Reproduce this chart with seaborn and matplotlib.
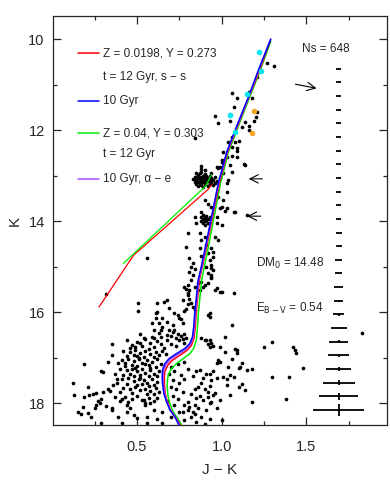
"""
Near-infrared colour-magnitude diagram (K vs J - K) with isochrones,
a photometric error column and a few annotations.
"""
import numpy as np
import pandas as pd
import seaborn as sns
import matplotlib.pyplot as plt
from matplotlib.ticker import MultipleLocator

# ---------------------------------------------------------------- stars
upper_rgb = [
    (1.27, 10.53), (1.31, 10.6), (1.21, 10.83), (1.16, 11.16), (1.06, 11.19),
    (1.09, 11.3), (1.18, 11.3), (1.07, 11.5), (1.2, 11.71), (1.21, 11.6),
    (1.19, 11.8), (0.96, 11.69), (0.98, 11.85), (1.05, 11.8), (1.14, 11.82),
    (1.12, 11.93), (1.16, 11.91), (1.16, 12.0), (1.06, 12.15), (0.84, 12.18),
    (1.08, 12.26), (1.1, 12.24), (1.04, 12.26), (1.06, 12.37), (1.09, 12.4),
    (1.01, 12.48), (1.09, 12.46),
]
mid_rgb = [
    (1.06, 12.57), (1.03, 12.59), (1.0, 12.66), (1.01, 12.73), (0.99, 12.81),
    (1.05, 12.77), (1.13, 12.75), (1.06, 12.92), (1.01, 12.95), (1.04, 13.1),
    (1.03, 13.16), (0.97, 12.81), (0.99, 13.06), (0.88, 12.79), (0.98, 12.84),
    (1.0, 12.7), (1.09, 12.59), (1.14, 12.77), (1.03, 13.36), (0.98, 13.47),
    (1.01, 13.54),
]
red_clump = [
    (0.84, 13.02), (0.85, 13.1), (0.85, 13.18), (0.86, 12.98), (0.86, 13.06),
    (0.86, 13.14), (0.86, 13.22), (0.87, 12.94), (0.87, 13.02), (0.87, 13.1),
    (0.87, 13.17), (0.88, 13.05), (0.88, 13.12), (0.88, 13.2), (0.88, 12.92),
    (0.89, 13.0), (0.89, 13.08), (0.89, 13.15), (0.89, 13.25), (0.9, 12.96),
    (0.9, 13.04), (0.9, 13.12), (0.9, 13.19), (0.91, 13.0), (0.91, 13.08),
    (0.91, 13.15), (0.92, 13.05), (0.92, 13.12), (0.92, 13.22), (0.93, 13.0),
    (0.93, 13.1), (0.93, 13.18), (0.94, 13.06), (0.94, 13.14), (0.95, 13.1),
    (0.95, 13.2), (0.96, 13.04), (0.96, 13.16), (0.97, 13.12), (0.85, 12.95),
    (0.88, 12.85), (0.9, 12.88), (0.94, 12.95), (0.83, 13.08), (0.84, 13.15),
]
lower_rgb = [
    (0.9, 13.54), (0.92, 13.63), (0.94, 13.69), (1.0, 13.69), (1.02, 13.78),
    (1.07, 13.8), (0.95, 13.82), (0.97, 13.91), (0.99, 13.71), (1.03, 13.71),
    (1.08, 13.8), (1.15, 13.87), (0.97, 14.04), (1.0, 14.09), (0.88, 13.8),
    (0.89, 13.87), (0.84, 13.91), (0.85, 14.04),
    (0.88, 13.9), (0.89, 13.95), (0.9, 13.92), (0.9, 14.0), (0.91, 13.88),
    (0.91, 13.97), (0.92, 14.03), (0.89, 14.05), (0.9, 14.08), (0.92, 13.95),
    (0.88, 14.0), (0.93, 13.9),
    (0.87, 14.26), (0.9, 14.35), (0.88, 14.42), (0.91, 14.53), (0.87, 14.59),
    (0.94, 14.6), (0.92, 14.7), (0.95, 14.79), (0.93, 14.86), (0.94, 14.97),
    (0.95, 15.08), (0.8, 14.26), (0.79, 14.57), (0.81, 14.81), (0.83, 14.92),
    (0.82, 15.0), (0.81, 15.12), (0.84, 15.06), (0.83, 15.19), (0.88, 14.77),
    (0.96, 14.35), (0.98, 14.42), (0.95, 14.68), (0.91, 15.0), (0.94, 15.03),
    (0.92, 15.14), (0.94, 15.23), (0.56, 14.81),
]
subgiants = [
    (0.82, 15.3), (0.84, 15.45), (0.8, 15.58), (0.86, 15.36), (0.87, 15.52),
    (0.89, 15.45), (0.94, 15.19), (0.94, 15.25), (0.96, 15.52), (1.0, 15.56),
    (1.07, 15.58), (0.88, 15.34), (0.9, 15.4), (0.92, 15.36), (0.97, 15.47),
    (0.99, 15.56), (0.78, 15.45), (0.79, 15.5), (0.8, 15.4), (0.81, 15.52),
    (0.8, 15.63), (0.81, 15.7), (0.82, 15.8), (0.8, 15.82), (0.83, 15.88),
    (0.84, 15.95), (0.78, 15.98), (0.79, 15.92), (0.74, 16.06), (0.75, 16.12),
    (0.76, 16.15), (0.93, 16.02), (0.92, 16.07), (0.93, 16.11), (1.06, 16.29),
    (0.62, 15.8), (0.62, 16.0), (0.66, 15.78), (0.69, 15.91), (0.72, 16.02),
    (0.61, 16.02), (0.65, 16.13), (0.68, 16.22), (0.71, 16.29), (0.65, 16.33),
    (0.59, 16.24), (0.72, 16.4), (0.77, 16.24), (0.68, 15.74), (0.77, 15.74),
    (0.32, 15.6), (0.505, 15.8), (0.505, 15.98), (0.61, 16.13), (0.63, 16.24),
    (0.63, 16.46), (0.6, 16.4), (0.64, 16.4), (0.69, 16.4), (0.71, 16.44),
    (0.74, 16.48), (0.76, 16.53), (0.78, 16.48), (0.79, 16.57), (0.52, 16.48),
]
red_side = [
    (0.88, 16.57), (0.9, 16.62), (0.91, 16.62), (0.93, 16.62), (0.94, 16.68),
    (0.93, 16.77), (1.02, 16.55), (0.99, 16.77), (1.25, 16.77), (1.3, 16.66),
    (1.42, 16.77), (1.43, 16.84), (1.44, 16.9), (1.08, 16.81), (1.09, 16.9),
    (1.06, 17.03), (1.12, 17.12), (1.1, 17.23), (1.15, 17.27), (1.18, 17.25),
    (1.48, 17.23), (1.3, 17.43), (1.4, 17.43), (1.83, 16.46), (1.01, 17.43),
    (1.07, 17.43), (1.03, 17.6), (1.1, 17.65), (1.12, 17.58), (1.14, 17.71),
    (1.18, 17.98), (1.38, 17.91), (1.05, 17.82), (0.99, 17.93), (0.95, 17.82),
    (0.92, 17.76), (0.84, 18.24), (0.85, 18.42), (0.92, 16.7), (0.95, 16.74),
    (1.02, 16.88), (1.09, 16.84), (0.99, 17.1), (0.97, 17.12), (0.98, 17.05),
    (1.04, 17.21), (1.11, 17.21), (0.87, 17.28), (0.91, 17.35), (0.89, 17.45),
    (0.93, 17.35), (0.95, 17.3), (0.85, 17.3), (0.83, 17.4), (0.88, 17.55),
    (0.94, 17.5), (0.97, 17.45), (1.03, 17.48), (1.05, 17.38), (0.86, 17.65),
    (0.9, 17.7), (0.93, 17.62), (0.96, 17.78), (0.82, 17.8), (0.84, 17.7),
    (0.87, 17.85), (0.89, 17.93), (0.94, 17.98), (0.8, 17.98), (0.84, 18.04),
    (0.86, 18.1), (0.91, 18.15), (0.97, 18.1), (0.82, 18.3), (0.88, 18.3),
    (0.93, 18.35), (0.9, 18.45), (0.8, 18.15), (0.78, 18.38), (0.85, 17.89),
    (0.92, 17.87), (0.93, 18.0), (0.78, 18.04), (0.81, 18.09), (0.83, 18.2),
    (0.77, 18.2), (1.0, 18.37), (0.65, 18.44),
]
turnoff = [
    (0.44, 16.62), (0.5, 16.65), (0.55, 16.6), (0.58, 16.68), (0.62, 16.63),
    (0.47, 16.72), (0.53, 16.74), (0.6, 16.77), (0.64, 16.7), (0.57, 16.8),
    (0.66, 16.78), (0.7, 16.7), (0.73, 16.75), (0.68, 16.62), (0.42, 16.85),
    (0.46, 16.88), (0.49, 16.83), (0.52, 16.9), (0.55, 16.86), (0.58, 16.93),
    (0.61, 16.88), (0.63, 16.95), (0.65, 16.85), (0.5, 16.97), (0.54, 16.99),
    (0.44, 16.96), (0.67, 16.92), (0.6, 16.98), (0.41, 17.05), (0.45, 17.02),
    (0.48, 17.08), (0.51, 17.04), (0.53, 17.12), (0.56, 17.06), (0.59, 17.1),
    (0.62, 17.04), (0.64, 17.15), (0.47, 17.16), (0.5, 17.18), (0.57, 17.17),
    (0.61, 17.2), (0.43, 17.19), (0.39, 17.12), (0.4, 17.25), (0.44, 17.28),
    (0.47, 17.24), (0.5, 17.3), (0.53, 17.26), (0.55, 17.33), (0.58, 17.28),
    (0.6, 17.35), (0.63, 17.3), (0.46, 17.36), (0.52, 17.38), (0.57, 17.4),
    (0.42, 17.38), (0.62, 17.4), (0.49, 17.22), (0.41, 17.48), (0.45, 17.45),
    (0.48, 17.52), (0.51, 17.46), (0.54, 17.5), (0.56, 17.56), (0.59, 17.48),
    (0.62, 17.54), (0.44, 17.58), (0.5, 17.6), (0.53, 17.58), (0.6, 17.6),
    (0.38, 17.55), (0.42, 17.66), (0.46, 17.7), (0.49, 17.64), (0.52, 17.72),
    (0.55, 17.68), (0.58, 17.74), (0.61, 17.67), (0.63, 17.76), (0.47, 17.78),
    (0.56, 17.8), (0.4, 17.75), (0.43, 17.86), (0.47, 17.9), (0.5, 17.85),
    (0.53, 17.93), (0.57, 17.88), (0.6, 17.95), (0.45, 17.98), (0.55, 18.0),
    (0.62, 17.88), (0.44, 18.04), (0.46, 18.1), (0.44, 18.2), (0.55, 18.04),
    (0.58, 18.0), (0.54, 17.93), (0.5, 18.33), (0.56, 18.3), (0.56, 18.44),
    (0.41, 18.44), (0.6, 18.15), (0.48, 18.25), (0.62, 18.35), (0.65, 18.2),
    (0.7, 17.2), (0.74, 17.15), (0.78, 17.1), (0.69, 17.35), (0.72, 17.3),
    (0.76, 17.38), (0.8, 17.25), (0.71, 17.5), (0.75, 17.55), (0.78, 17.48),
    (0.73, 17.7), (0.77, 17.75), (0.7, 17.65), (0.74, 17.9), (0.71, 17.85),
    (0.68, 17.95), (0.72, 18.05), (0.75, 18.2), (0.7, 18.3), (0.6, 16.57),
    (0.64, 16.55), (0.68, 16.51), (0.7, 16.53), (0.73, 16.57), (0.75, 16.62),
    (0.77, 16.6), (0.78, 16.68), (0.54, 16.57), (0.52, 16.68), (0.59, 16.55),
    (0.46, 16.79), (0.49, 16.77), (0.48, 16.95), (0.51, 17.0), (0.55, 17.14),
    (0.58, 17.22), (0.52, 17.44), (0.57, 17.62), (0.48, 17.41), (0.6, 17.8),
]
blue_side = [
    (0.35, 16.7), (0.35, 16.95), (0.33, 17.1), (0.19, 17.15), (0.43, 17.12),
    (0.29, 17.3), (0.3, 17.32), (0.38, 17.47), (0.12, 17.56), (0.21, 17.65),
    (0.13, 17.82), (0.19, 17.87), (0.22, 17.82), (0.24, 17.8), (0.26, 17.78),
    (0.3, 17.76), (0.33, 17.7), (0.34, 17.74), (0.29, 17.9), (0.26, 18.04),
    (0.25, 18.1), (0.37, 17.87), (0.18, 18.09), (0.21, 18.22), (0.17, 18.24),
    (0.32, 18.07), (0.35, 18.1), (0.35, 18.15), (0.29, 18.44), (0.27, 17.95),
    (0.28, 18.0), (0.36, 17.6), (0.4, 17.95), (0.39, 18.3), (0.23, 18.3),
    (0.15, 18.2), (0.37, 17.35), (0.41, 17.9),
]

# variable stars
cyan_jk = [1.22, 1.23, 1.15, 1.05, 1.08]
cyan_k = [10.29, 10.7, 11.2, 11.67, 12.04]
orange_jk = [1.19, 1.18]
orange_k = [11.57, 12.07]

# ---------------------------------------------------------------- isochrones
iso_10_jk = [0.763, 0.724, 0.694, 0.671, 0.659, 0.651, 0.649, 0.651, 0.665,
             0.69, 0.734, 0.782, 0.812, 0.828, 0.835, 0.841, 0.851, 0.861,
             0.88, 0.90, 0.94, 0.98, 1.03, 1.09, 1.155, 1.22, 1.29]
iso_10_k = [18.6, 18.3, 18.15, 17.93, 17.79, 17.57, 17.42, 17.27, 17.13,
            17.02, 16.91, 16.8, 16.69, 16.54, 16.32, 16.03, 15.66, 15.3,
            15.0, 14.64, 13.91, 13.17, 12.48, 11.9, 11.3, 10.65, 10.0]
iso_sol_jk = [0.775, 0.73, 0.70, 0.678, 0.667, 0.662, 0.662, 0.665, 0.68,
              0.705, 0.748, 0.792, 0.82, 0.836, 0.844, 0.849, 0.859, 0.868,
              0.886, 0.907, 0.946, 0.986, 1.035, 1.095, 1.158, 1.222, 1.285]
iso_sol_k = [18.6, 18.32, 18.16, 17.95, 17.8, 17.58, 17.43, 17.3, 17.18,
             17.07, 16.96, 16.85, 16.74, 16.58, 16.34, 16.04, 15.66, 15.3,
             15.0, 14.64, 13.91, 13.17, 12.48, 11.9, 11.3, 10.7, 10.05]
iso_rich_jk = [0.782, 0.74, 0.712, 0.692, 0.683, 0.678, 0.68, 0.687, 0.703,
               0.73, 0.77, 0.81, 0.835, 0.85, 0.857, 0.862, 0.872, 0.882,
               0.898, 0.918, 0.955, 0.993, 1.04, 1.1, 1.163, 1.226, 1.29]
iso_rich_k = [18.6, 18.33, 18.18, 17.98, 17.83, 17.62, 17.48, 17.36, 17.25,
              17.14, 17.03, 16.92, 16.8, 16.62, 16.36, 16.05, 15.66, 15.3,
              15.0, 14.64, 13.91, 13.17, 12.48, 11.9, 11.3, 10.7, 10.05]
iso_ae_jk = [0.77, 0.727, 0.697, 0.675, 0.663, 0.656, 0.655, 0.658, 0.672,
             0.697, 0.741, 0.788, 0.816, 0.832, 0.839, 0.845, 0.855, 0.864,
             0.883, 0.903, 0.942, 0.982, 1.032, 1.092, 1.157, 1.222, 1.288]
iso_ae_k = [18.6, 18.31, 18.15, 17.94, 17.79, 17.57, 17.42, 17.28, 17.15,
            17.04, 16.93, 16.82, 16.71, 16.56, 16.33, 16.03, 15.66, 15.3,
            15.0, 14.64, 13.91, 13.17, 12.48, 11.9, 11.3, 10.65, 10.0]

# horizontal branches
hb_sol_jk = [0.276, 0.48, 0.86, 0.92, 0.94]
hb_sol_k = [15.89, 14.75, 13.5, 13.3, 13.2]
hb_rich_jk = [0.42, 0.905, 0.94]
hb_rich_k = [14.93, 13.23, 12.98]

# ---------------------------------------------------------------- errors
err_jk = 1.69
err_k = [10.65, 10.95, 11.25, 11.55, 11.85, 12.15, 12.45, 12.75, 13.05,
         13.35, 13.65, 13.95, 14.25, 14.55, 14.85, 15.15, 15.45, 15.75,
         16.05, 16.35, 16.65, 16.95, 17.25, 17.55, 17.85, 18.15]
err_x = [0.016, 0.016, 0.016, 0.016, 0.016, 0.016, 0.016, 0.016, 0.016,
         0.017, 0.017, 0.017, 0.018, 0.018, 0.019, 0.02, 0.025, 0.029,
         0.033, 0.047, 0.057, 0.061, 0.076, 0.094, 0.116, 0.149]
err_y = [0.0, 0.0, 0.0, 0.0, 0.0, 0.0, 0.0, 0.0, 0.0, 0.0,
         0.0, 0.0, 0.0, 0.0, 0.0, 0.0, 0.0, 0.02, 0.025, 0.03,
         0.035, 0.04, 0.05, 0.06, 0.08, 0.13]

# arrows: (tail, head)
arrows = [((1.435, 10.99), (1.56, 11.08)),
          ((1.24, 13.07), (1.16, 13.07)),
          ((1.23, 13.89), (1.15, 13.89))]

stars = pd.DataFrame(upper_rgb + mid_rgb + red_clump + lower_rgb + subgiants
                     + red_side + turnoff + blue_side, columns=['jk', 'k'])

iso = pd.concat([
    pd.DataFrame({'jk': iso_rich_jk, 'k': iso_rich_k, 'model': 'rich'}),
    pd.DataFrame({'jk': iso_sol_jk, 'k': iso_sol_k, 'model': 'sol'}),
    pd.DataFrame({'jk': iso_ae_jk, 'k': iso_ae_k, 'model': 'ae'}),
    pd.DataFrame({'jk': iso_10_jk, 'k': iso_10_k, 'model': '10'}),
], ignore_index=True)
palette = {'sol': '#ff0000', '10': '#0000ff', 'rich': '#00ee00', 'ae': '#a64dff'}

sns.set_style('ticks')
plt.rcParams['font.family'] = ['Liberation Sans', 'DejaVu Sans']

fig = plt.figure(figsize=(3.9, 4.91), dpi=100)
ax = fig.add_axes([0.136, 0.134, 0.856, 0.833])

sns.scatterplot(data=stars, x='jk', y='k', color='black', s=7,
                linewidth=0, ax=ax, legend=False, zorder=2)

sns.lineplot(data=iso, x='jk', y='k', hue='model', palette=palette,
             sort=False, estimator=None, lw=1.1, ax=ax, legend=False, zorder=3)
ax.plot(hb_sol_jk, hb_sol_k, color=palette['sol'], lw=0.9, zorder=3)
ax.plot(hb_rich_jk, hb_rich_k, color=palette['rich'], lw=0.9, zorder=3)

ax.scatter(cyan_jk, cyan_k, color='#00e8f0', s=16, linewidths=0, zorder=4)
ax.scatter(orange_jk, orange_k, color='#f5a623', s=16, linewidths=0, zorder=4)

ax.errorbar([err_jk] * len(err_k), err_k, xerr=err_x, yerr=err_y, fmt='none',
            ecolor='black', elinewidth=1.3, capsize=0)

for tail, head in arrows:
    ax.annotate('', xy=head, xytext=tail,
                arrowprops=dict(arrowstyle='->, head_length=0.6, head_width=0.3',
                                lw=0.8, color='black', mutation_scale=10,
                                shrinkA=0, shrinkB=0))

ax.text(1.476, 10.22, 'Ns = 648', fontsize=8.5, va='center')
ax.text(1.2, 14.92, r'DM$_0$ = 14.48', fontsize=8.5, va='center')
ax.text(1.2, 15.91, r'E$_{\rm B-V}$ = 0.54', fontsize=8.5, va='center')

# hand-made legend, axes fractions
legend_rows = [
    ('#ff0000', 'Z = 0.0198, Y = 0.273', 0.910),
    (None, 't = 12 Gyr, s − s', 0.851),
    ('#0000ff', '10 Gyr', 0.793),
    ('#00ee00', 'Z = 0.04, Y = 0.303', 0.714),
    (None, 't = 12 Gyr', 0.663),
    ('#a64dff', '10 Gyr, α − e', 0.603),
]
for color, label, yy in legend_rows:
    if color:
        ax.plot([0.075, 0.138], [yy, yy], color=color, lw=1.1,
                transform=ax.transAxes)
    ax.text(0.15, yy, label, fontsize=8.5, va='center', transform=ax.transAxes)

ax.set_xlim(0.005, 1.975)
ax.set_ylim(18.485, 9.495)
ax.xaxis.set_major_locator(MultipleLocator(0.5))
ax.xaxis.set_minor_locator(MultipleLocator(0.25))
ax.yaxis.set_major_locator(MultipleLocator(2))
ax.yaxis.set_minor_locator(MultipleLocator(1))
ax.tick_params(which='both', direction='in', top=True, right=True, width=0.9)
ax.tick_params(which='major', length=5.5, labelsize=10.5)
ax.tick_params(which='minor', length=3)
ax.tick_params(axis='x', which='major', pad=11)
ax.tick_params(axis='y', which='major', pad=6)
for s in ax.spines.values():
    s.set_linewidth(0.9)
ax.set_xlabel('J − K', fontsize=11, labelpad=6)
ax.set_ylabel('K', fontsize=11, labelpad=5)

fig.savefig('out.png', dpi=100)
